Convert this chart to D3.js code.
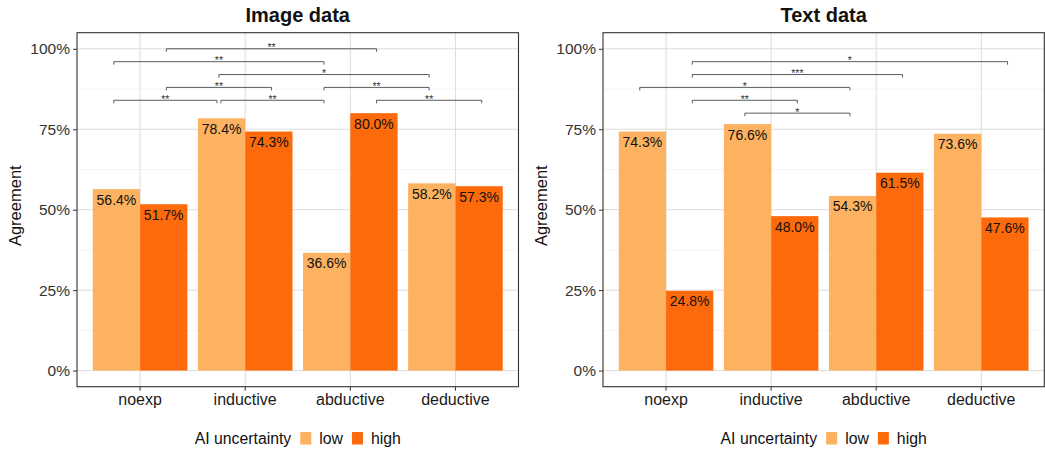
<!DOCTYPE html>
<html>
<head>
<meta charset="utf-8">
<script src="https://cdn.jsdelivr.net/npm/d3@7/dist/d3.min.js"></script>
<style>
  html, body { margin: 0; padding: 0; background: #ffffff; }
  svg { display: block; font-family: "Liberation Sans", Arial, Helvetica, sans-serif; }
</style>
</head>
<body>
<svg id="chart" width="1045" height="452"></svg>
<script>
// Categories and groups
const categories = ["noexp", "inductive", "abductive", "deductive"];
const groups = ["low", "high"];
const groupLabels = ["low", "high"];
const legendTitle = "AI uncertainty";
const yTitle = "Agreement";

// Agreement (%) per category, Image data
const imageLow  = [56.4, 78.4, 36.6, 58.2];
const imageHigh = [51.7, 74.3, 80.0, 57.3];

// Agreement (%) per category, Text data
const textLow  = [74.3, 76.6, 54.3, 73.6];
const textHigh = [24.8, 48.0, 61.5, 47.6];

const yTicks = [0, 25, 50, 75, 100];
const yMinor = [12.5, 37.5, 62.5, 87.5];

// Pairwise significance comparisons: [category, group] -> [category, group], bracket level (%), stars
const imageComparisons = [
  { a: ["noexp", "high"],     b: ["abductive", "high"], level: 100, label: "**" },
  { a: ["noexp", "low"],      b: ["abductive", "low"],  level: 96,  label: "**" },
  { a: ["inductive", "low"],  b: ["deductive", "low"],  level: 92,  label: "*" },
  { a: ["noexp", "high"],     b: ["inductive", "high"], level: 88,  label: "**" },
  { a: ["abductive", "low"],  b: ["deductive", "low"],  level: 88,  label: "**" },
  { a: ["noexp", "low"],      b: ["inductive", "low"],  level: 84,  label: "**" },
  { a: ["inductive", "low"],  b: ["abductive", "low"],  level: 84,  label: "**" },
  { a: ["abductive", "high"], b: ["deductive", "high"], level: 84,  label: "**" }
];
const textComparisons = [
  { a: ["noexp", "high"],     b: ["deductive", "high"], level: 96, label: "*" },
  { a: ["noexp", "high"],     b: ["abductive", "high"], level: 92, label: "***" },
  { a: ["noexp", "low"],      b: ["abductive", "low"],  level: 88, label: "*" },
  { a: ["noexp", "high"],     b: ["inductive", "high"], level: 84, label: "**" },
  { a: ["inductive", "low"],  b: ["abductive", "low"],  level: 80, label: "*" }
];

const colors = { low: "#fcb260", high: "#fd6a0c" };

const svg = d3.select("#chart");

function drawPanel(opts) {
  const { x0, x1, y0, y1, title, low, high, comparisons } = opts;
  const g = svg.append("g");

  // discrete x: 0.6 unit expansion at both ends, dodge width 0.9
  const x = d3.scaleBand().domain(categories).range([x0, x1])
    .paddingInner(0.1).paddingOuter(0.15);
  const xc = c => x(c) + x.bandwidth() / 2;
  const unit = x.step();
  const xg = d3.scaleBand().domain(groups).range([0, x.bandwidth()]).padding(0);

  const y = d3.scaleLinear().domain([-5, 105]).range([y1, y0]);

  // grid
  g.append("g").selectAll("line").data(yMinor).join("line")
    .attr("x1", x0).attr("x2", x1)
    .attr("y1", d => y(d)).attr("y2", d => y(d))
    .attr("stroke", "#efefef").attr("stroke-width", 0.7);
  g.append("g").selectAll("line").data(yTicks).join("line")
    .attr("x1", x0).attr("x2", x1)
    .attr("y1", d => y(d)).attr("y2", d => y(d))
    .attr("stroke", "#dcdcdc").attr("stroke-width", 1);
  g.append("g").selectAll("line").data(categories).join("line")
    .attr("x1", d => xc(d)).attr("x2", d => xc(d))
    .attr("y1", y0).attr("y2", y1)
    .attr("stroke", "#dcdcdc").attr("stroke-width", 1);

  // bars
  const rows = [];
  categories.forEach((c, i) => {
    rows.push({ cat: c, grp: "low", v: low[i] });
    rows.push({ cat: c, grp: "high", v: high[i] });
  });
  g.append("g").selectAll("rect").data(rows).join("rect")
    .attr("x", d => x(d.cat) + xg(d.grp))
    .attr("width", xg.bandwidth())
    .attr("y", d => y(d.v))
    .attr("height", d => y(0) - y(d.v))
    .attr("fill", d => colors[d.grp]);

  // value labels just inside the top of each bar
  g.append("g").selectAll("text").data(rows).join("text")
    .attr("x", d => x(d.cat) + xg(d.grp) + xg.bandwidth() / 2)
    .attr("y", d => y(d.v) + 15.5)
    .attr("text-anchor", "middle")
    .attr("font-size", 14)
    .attr("fill", "#111")
    .text(d => d.v.toFixed(1) + "%");

  // significance brackets
  const bx = ([c, grp]) => xc(c) + (grp === "low" ? -0.25 : 0.25) * unit;
  const br = g.append("g");
  comparisons.forEach(cmp => {
    let xa = bx(cmp.a), xb = bx(cmp.b);
    // leave a small gap where brackets on one level meet
    comparisons.forEach(o => {
      if (o === cmp || o.level !== cmp.level) return;
      if (Math.abs(bx(o.a) - xb) < 0.5) xb -= 2;
      if (Math.abs(bx(o.b) - xa) < 0.5) xa += 2;
    });
    const yy = y(cmp.level);
    br.append("path")
      .attr("d", `M${xa},${yy + 3}V${yy}H${xb}V${yy + 3}`)
      .attr("fill", "none").attr("stroke", "#4a4a4a").attr("stroke-width", 0.9);
    br.append("text")
      .attr("x", (xa + xb) / 2).attr("y", yy + 2.5)
      .attr("text-anchor", "middle").attr("font-size", 10.5)
      .attr("fill", "#333").text(cmp.label);
  });

  // panel border
  g.append("rect").attr("x", x0).attr("y", y0)
    .attr("width", x1 - x0).attr("height", y1 - y0)
    .attr("fill", "none").attr("stroke", "#333").attr("stroke-width", 1.1);

  // y axis
  const ya = g.append("g").attr("transform", `translate(${x0},0)`)
    .call(d3.axisLeft(y).tickValues(yTicks).tickFormat(d => d + "%").tickSize(4).tickPadding(3));
  ya.select(".domain").remove();
  ya.selectAll("line").attr("stroke", "#333");
  ya.selectAll("text").attr("font-size", 15.5).attr("fill", "#333")
    .attr("font-family", "Liberation Sans, Arial, sans-serif");

  // x axis
  const xa = g.append("g").attr("transform", `translate(0,${y1})`)
    .call(d3.axisBottom(x).tickSize(4).tickPadding(3));
  xa.select(".domain").remove();
  xa.selectAll("line").attr("stroke", "#333");
  xa.selectAll("text").attr("font-size", 16).attr("fill", "#1a1a1a")
    .attr("font-family", "Liberation Sans, Arial, sans-serif");

  // y title
  g.append("text")
    .attr("transform", `translate(${x0 - 56},${(y0 + y1) / 2 - 4}) rotate(-90)`)
    .attr("text-anchor", "middle").attr("font-size", 16.5).attr("fill", "#111")
    .text(yTitle);

  // title
  const cx = (x0 + x1) / 2;
  g.append("text").attr("x", cx).attr("y", 22)
    .attr("text-anchor", "middle").attr("font-size", 20).attr("font-weight", "bold")
    .attr("fill", "#111").text(title);

  // legend, centred under the panel
  const lg = g.append("g");
  const lt = lg.append("text").attr("y", 444).attr("font-size", 15.8).attr("fill", "#111").text(legendTitle);
  let cur = lt.node().getComputedTextLength() + 9;
  groups.forEach((grp, i) => {
    lg.append("rect").attr("x", cur).attr("y", 432).attr("width", 11).attr("height", 12.5)
      .attr("fill", colors[grp]);
    cur += 11 + 8;
    const t = lg.append("text").attr("x", cur).attr("y", 444).attr("font-size", 15.8)
      .attr("fill", "#111").text(groupLabels[i]);
    cur += t.node().getComputedTextLength() + (i < groups.length - 1 ? 9 : 0);
  });
  lg.attr("transform", `translate(${cx - cur / 2},0)`);
}

drawPanel({ x0: 77, x1: 518.5, y0: 32.7, y1: 386.7, title: "Image data",
  low: imageLow, high: imageHigh, comparisons: imageComparisons });
drawPanel({ x0: 603, x1: 1044.3, y0: 32.7, y1: 386.7, title: "Text data",
  low: textLow, high: textHigh, comparisons: textComparisons });
</script>
</body>
</html>
